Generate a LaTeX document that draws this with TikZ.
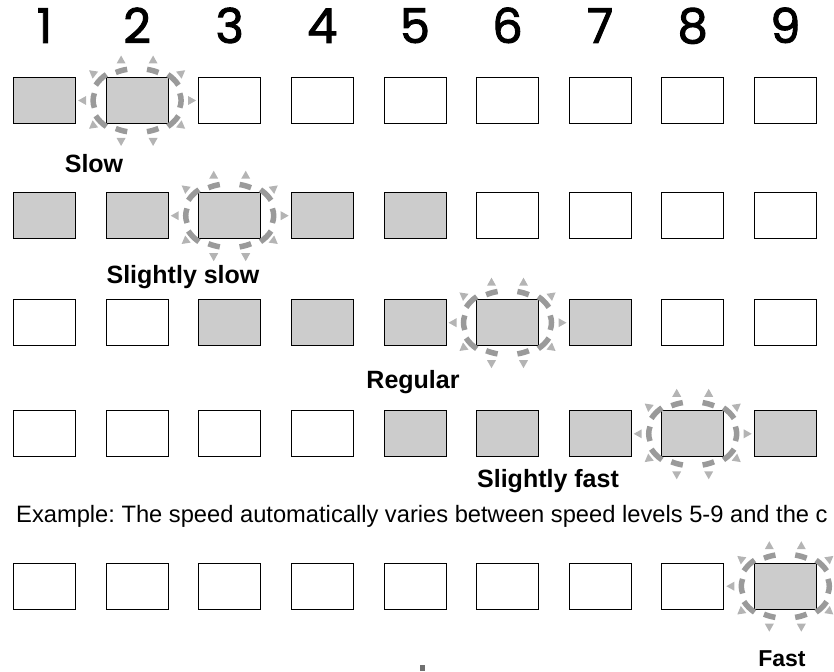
\documentclass[tikz,border=0pt]{standalone}
\usepackage{fontspec}
\setmainfont{Liberation Sans}
\newfontfamily\digitfont{Poppins}[FakeBold=2]
\definecolor{boxgray}{HTML}{CCCCCC}
\definecolor{raygray}{HTML}{9A9A9A}
\definecolor{trigray}{HTML}{B4B4B4}
\definecolor{markgray}{HTML}{707070}
\frenchspacing
\begin{document}
\begin{tikzpicture}[x=1pt,y=-1pt,
  box/.style={draw=black, line width=0.8pt, minimum width=62pt, minimum height=46pt, inner sep=0pt, outer sep=0pt},
  lbl/.style={font=\fontsize{25}{30}\selectfont\bfseries, anchor=base, inner sep=0pt},
  num/.style={font=\digitfont\fontsize{48}{52}\selectfont, anchor=base, inner sep=0pt},
  ray/.style={draw=raygray, line width=5.5pt},
  tri/.style={fill=trigray},
  sparkle/.pic={
    \foreach \t/\h in {0/14,180/14}
      \draw[ray] (\t-\h:44pt and 30pt) arc[start angle=\t-\h, end angle=\t+\h, x radius=44pt, y radius=30pt];
    \foreach \t/\h in {69/8,111/8,249/8,291/8}
      \draw[ray] (\t-\h:44pt and 32pt) arc[start angle=\t-\h, end angle=\t+\h, x radius=44pt, y radius=32pt];
    \foreach \t in {37,143,217,323}
      \draw[ray] (\t-11:46pt and 35pt) arc[start angle=\t-11, end angle=\t+11, x radius=46pt, y radius=35pt];
    \foreach \px/\py/\a in {-16/-40.5/90, 16/-40.5/90, -16/41/270, 16/41/270, -54.5/0/180, 54.5/0/0,
                            -44.5/-27.5/142, 44.5/-27.5/38, -44.5/25.5/218, 44.5/25.5/322}
      \fill[tri, shift={(\px,\py)}, rotate=\a] (4.5pt,0pt) -- (-3.5pt,4.5pt) -- (-3.5pt,-4.5pt) -- cycle;
  }]
\useasboundingbox (0,0) rectangle (834,671);
\clip (0,0) rectangle (834,671);
% column numbers
\foreach \c in {1,...,9}
  \node[num] (n\c) at ({44.5+(\c-1)*92.6},43) {\c};
% rows of boxes
\foreach \r/\y/\states in {
  1/100.5/{boxgray,boxgray,white,white,white,white,white,white,white},
  2/215.7/{boxgray,boxgray,boxgray,boxgray,boxgray,white,white,white,white},
  3/322.7/{white,white,boxgray,boxgray,boxgray,boxgray,boxgray,white,white},
  4/433.8/{white,white,white,white,boxgray,boxgray,boxgray,boxgray,boxgray},
  5/586.2/{white,white,white,white,white,white,white,white,boxgray}}
{
  \foreach \s [count=\c] in \states
    \node[box, fill=\s] (r\r c\c) at ({44.5+(\c-1)*92.6},\y) {};
}
% sparkles around the active box
\pic at (r1c2) {sparkle};
\pic at (r2c3) {sparkle};
\pic at (r3c6) {sparkle};
\pic at (r4c8) {sparkle};
\pic at (r5c9) {sparkle};
% labels
\node[lbl] (slow) at (94,172) {Slow};
\node[lbl] (sslow) at (183,283) {Slightly slow};
\node[lbl] (reg) at (413,388) {Regular};
\node[lbl] (sfast) at (548,487) {Slightly fast};
\node[lbl, font=\fontsize{23}{28}\selectfont\bfseries] (fast) at (782,666) {Fast};
\node[anchor=base west, inner sep=0pt, font=\fontsize{23.7}{28}\selectfont] (ex) at (16,522)
  {Example: The speed automatically varies between speed levels 5-9 and the c};
% small mark at the bottom edge
\fill[markgray] (420,665) rectangle (425,671);
\end{tikzpicture}
\end{document}
